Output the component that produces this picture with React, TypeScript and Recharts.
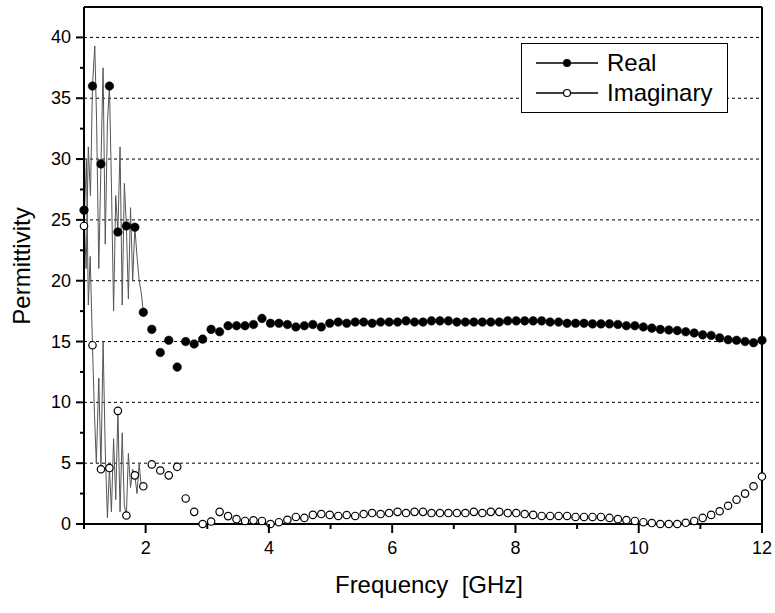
import { ComposedChart, Line, XAxis, YAxis, ReferenceLine } from "recharts";

// frequency of each marker, GHz
const freq = [
  1.0, 1.1375, 1.275, 1.4125, 1.55, 1.6875, 1.825, 1.9625, 2.1, 2.2375,
  2.375, 2.5125, 2.65, 2.7875, 2.925, 3.0625, 3.2, 3.3375, 3.475, 3.6125,
  3.75, 3.8875, 4.025, 4.1625, 4.3, 4.4375, 4.575, 4.7125, 4.85, 4.9875,
  5.125, 5.2625, 5.4, 5.5375, 5.675, 5.8125, 5.95, 6.0875, 6.225, 6.3625,
  6.5, 6.6375, 6.775, 6.9125, 7.05, 7.1875, 7.325, 7.4625, 7.6, 7.7375,
  7.875, 8.0125, 8.15, 8.2875, 8.425, 8.5625, 8.7, 8.8375, 8.975, 9.1125,
  9.25, 9.3875, 9.525, 9.6625, 9.8, 9.9375, 10.075, 10.2125, 10.35, 10.4875,
  10.625, 10.7625, 10.9, 11.0375, 11.175, 11.3125, 11.45, 11.5875, 11.725, 11.8625,
  12.0,
];

const real = [
  25.8, 36.0, 29.6, 36.0, 24.0, 24.5, 24.4, 17.4, 16.0, 14.1,
  15.1, 12.9, 15.0, 14.8, 15.2, 16.0, 15.8, 16.3, 16.3, 16.3,
  16.4, 16.9, 16.5, 16.5, 16.4, 16.2, 16.3, 16.4, 16.2, 16.5,
  16.6, 16.5, 16.6, 16.6, 16.5, 16.6, 16.6, 16.6, 16.7, 16.6,
  16.6, 16.7, 16.7, 16.7, 16.6, 16.6, 16.6, 16.6, 16.6, 16.6,
  16.7, 16.7, 16.7, 16.7, 16.7, 16.6, 16.6, 16.5, 16.5, 16.5,
  16.45, 16.45, 16.45, 16.4, 16.3, 16.3, 16.2, 16.1, 16.0, 15.95,
  15.9, 15.8, 15.7, 15.55, 15.5, 15.3, 15.15, 15.1, 15.0, 14.9,
  15.1,
];

const imag = [
  24.5, 14.7, 4.5, 4.6, 9.3, 0.7, 4.0, 3.1, 4.9, 4.4,
  4.0, 4.7, 2.1, 1.0, 0.0, 0.2, 1.0, 0.65, 0.4, 0.25,
  0.3, 0.25, 0.0, 0.15, 0.35, 0.58, 0.5, 0.75, 0.82, 0.75,
  0.66, 0.74, 0.66, 0.82, 0.9, 0.82, 0.9, 1.0, 0.9, 1.0,
  1.0, 0.9, 0.9, 0.9, 0.9, 0.9, 1.0, 0.9, 1.0, 1.0,
  0.9, 0.9, 0.82, 0.75, 0.66, 0.66, 0.66, 0.66, 0.58, 0.58,
  0.58, 0.58, 0.5, 0.4, 0.33, 0.25, 0.15, 0.08, 0.0, 0.0,
  0.0, 0.1, 0.25, 0.5, 0.75, 1.05, 1.5, 2.0, 2.5, 3.1,
  3.9,
];

// the noisy trace below 2 GHz, sampled finer than the markers
const realTraceF = [
  1.0, 1.035, 1.07, 1.105, 1.1375, 1.175, 1.205, 1.24, 1.275, 1.31,
  1.345, 1.38, 1.4125, 1.445, 1.48, 1.515, 1.55, 1.585, 1.62, 1.655,
  1.6875, 1.72, 1.755, 1.79, 1.825, 1.86, 1.895, 1.93, 1.9625,
];
const realTraceV = [
  25.8, 21.0, 31.0, 27.0, 36.0, 39.3, 33.0, 21.0, 29.6, 37.5,
  23.0, 33.0, 36.0, 28.0, 17.5, 27.0, 24.0, 31.0, 18.0, 28.0,
  24.5, 18.5, 26.0, 20.0, 24.4, 22.0, 20.0, 19.0, 17.4,
];
const imagTraceF = [
  1.0, 1.04, 1.07, 1.1, 1.1375, 1.17, 1.2, 1.24, 1.275, 1.31,
  1.345, 1.38, 1.4125, 1.445, 1.48, 1.515, 1.55, 1.585, 1.62, 1.655,
  1.6875, 1.72, 1.755, 1.79, 1.825, 1.86, 1.895, 1.93, 1.9625,
];
const imagTraceV = [
  24.5, 30.0, 18.0, 22.0, 14.7, 9.0, 5.0, 12.0, 4.5, 15.0,
  6.0, 0.5, 4.6, 1.0, 7.0, 2.0, 9.3, 1.0, 7.5, 1.5,
  0.7, 5.8, 3.0, 4.5, 4.0, 2.5, 5.0, 3.0, 3.1,
];

const xTicks = [1, 2, 3, 4, 5, 6, 7, 8, 9, 10, 11, 12];
const yTicks = [0, 2.5, 5, 7.5, 10, 12.5, 15, 17.5, 20, 22.5, 25, 27.5, 30, 32.5, 35, 37.5, 40];
const gridLines = [5, 10, 15, 20, 25, 30, 35, 40];
const legendNames = ["Real", "Imaginary"];

const FONT = "'Liberation Sans', Arial, sans-serif";

const realPts = freq.map((f, i) => ({ f, v: real[i] }));
const imagPts = freq.map((f, i) => ({ f, v: imag[i] }));
const realLine = realTraceF.map((f, i) => ({ f, v: realTraceV[i] }));
const imagLine = imagTraceF.map((f, i) => ({ f, v: imagTraceV[i] }));

const XTick = (props: any) => {
  const { x, y, payload } = props;
  const v = payload.value;
  const major = v % 2 === 0;
  return (
    <g>
      <line x1={x} x2={x} y1={y} y2={y + (major ? 9 : 5)} stroke="#000" strokeWidth={2} />
      {major && (
        <text x={x} y={y + 30} textAnchor="middle" fontSize={18} fontFamily={FONT} fill="#000">
          {v}
        </text>
      )}
    </g>
  );
};

const YTick = (props: any) => {
  const { x, y, payload } = props;
  const v = payload.value;
  const major = v % 5 === 0;
  return (
    <g>
      <line x1={x} x2={x - (major ? 8 : 4)} y1={y} y2={y} stroke="#000" strokeWidth={2} />
      {major && (
        <text x={x - 13} y={y + 6} textAnchor="end" fontSize={18} fontFamily={FONT} fill="#000">
          {v}
        </text>
      )}
    </g>
  );
};

function LegendBox() {
  return (
    <div
      style={{
        position: "absolute",
        left: 521,
        top: 43,
        width: 207,
        height: 70,
        boxSizing: "border-box",
        border: "1.5px solid #000",
        background: "#fff",
      }}
    >
      <svg width={204} height={67} style={{ display: "block" }}>
        {legendNames.map((name, i) => {
          const cy = 19 + i * 30;
          return (
            <g key={name}>
              <line x1={14} x2={76} y1={cy} y2={cy} stroke="#000" strokeWidth={1.5} />
              {i === 0 ? (
                <circle cx={45} cy={cy} r={4} fill="#000" />
              ) : (
                <circle cx={45} cy={cy} r={3.5} fill="#fff" stroke="#000" strokeWidth={1.2} />
              )}
              <text x={85} y={cy + 8} fontSize={24} fontFamily={FONT} fill="#000">
                {name}
              </text>
            </g>
          );
        })}
      </svg>
    </div>
  );
}

export default function App() {
  return (
    <div style={{ position: "absolute", left: 0, top: 0, width: 775, height: 613, background: "#fff" }}>
      <ComposedChart width={775} height={613} margin={{ top: 7, right: 13, bottom: 0, left: 0 }}>
        <XAxis
          dataKey="f"
          type="number"
          domain={[1, 12]}
          ticks={xTicks}
          tick={<XTick />}
          tickLine={false}
          tickSize={0}
          tickMargin={0}
          height={89}
          axisLine={{ stroke: "#000", strokeWidth: 2 }}
          allowDuplicatedCategory={false}
          label={{
            content: () => (
              <text x={429} y={593} textAnchor="middle" fontSize={24} fontFamily={FONT} fill="#000">
                {"Frequency \u00a0[GHz]"}
              </text>
            ),
          }}
        />
        <YAxis
          type="number"
          domain={[0, 42.5]}
          ticks={yTicks}
          tick={<YTick />}
          tickLine={false}
          tickSize={0}
          tickMargin={0}
          width={84}
          axisLine={{ stroke: "#000", strokeWidth: 2 }}
          label={{
            content: () => (
              <text
                x={30}
                y={266}
                transform="rotate(-90 30 266)"
                textAnchor="middle"
                fontSize={24}
                fontFamily={FONT}
                fill="#000"
              >
                Permittivity
              </text>
            ),
          }}
        />
        {gridLines.map((g) => (
          <ReferenceLine key={g} y={g} stroke="#000" strokeWidth={1} strokeDasharray="3 3" />
        ))}
        <ReferenceLine y={42.5} stroke="#000" strokeWidth={2} />
        <ReferenceLine x={12} stroke="#000" strokeWidth={2} />
        <Line
          data={realLine}
          dataKey="v"
          stroke="#555"
          strokeWidth={1}
          dot={false}
          isAnimationActive={false}
        />
        <Line
          data={imagLine}
          dataKey="v"
          stroke="#555"
          strokeWidth={1}
          dot={false}
          isAnimationActive={false}
        />
        <Line
          data={realPts}
          dataKey="v"
          stroke="none"
          dot={{ r: 4.3, fill: "#000", stroke: "#000", strokeWidth: 0.5 }}
          isAnimationActive={false}
        />
        <Line
          data={imagPts}
          dataKey="v"
          stroke="none"
          dot={{ r: 3.7, fill: "#fff", stroke: "#000", strokeWidth: 1.2 }}
          isAnimationActive={false}
        />
      </ComposedChart>
      <LegendBox />
    </div>
  );
}
